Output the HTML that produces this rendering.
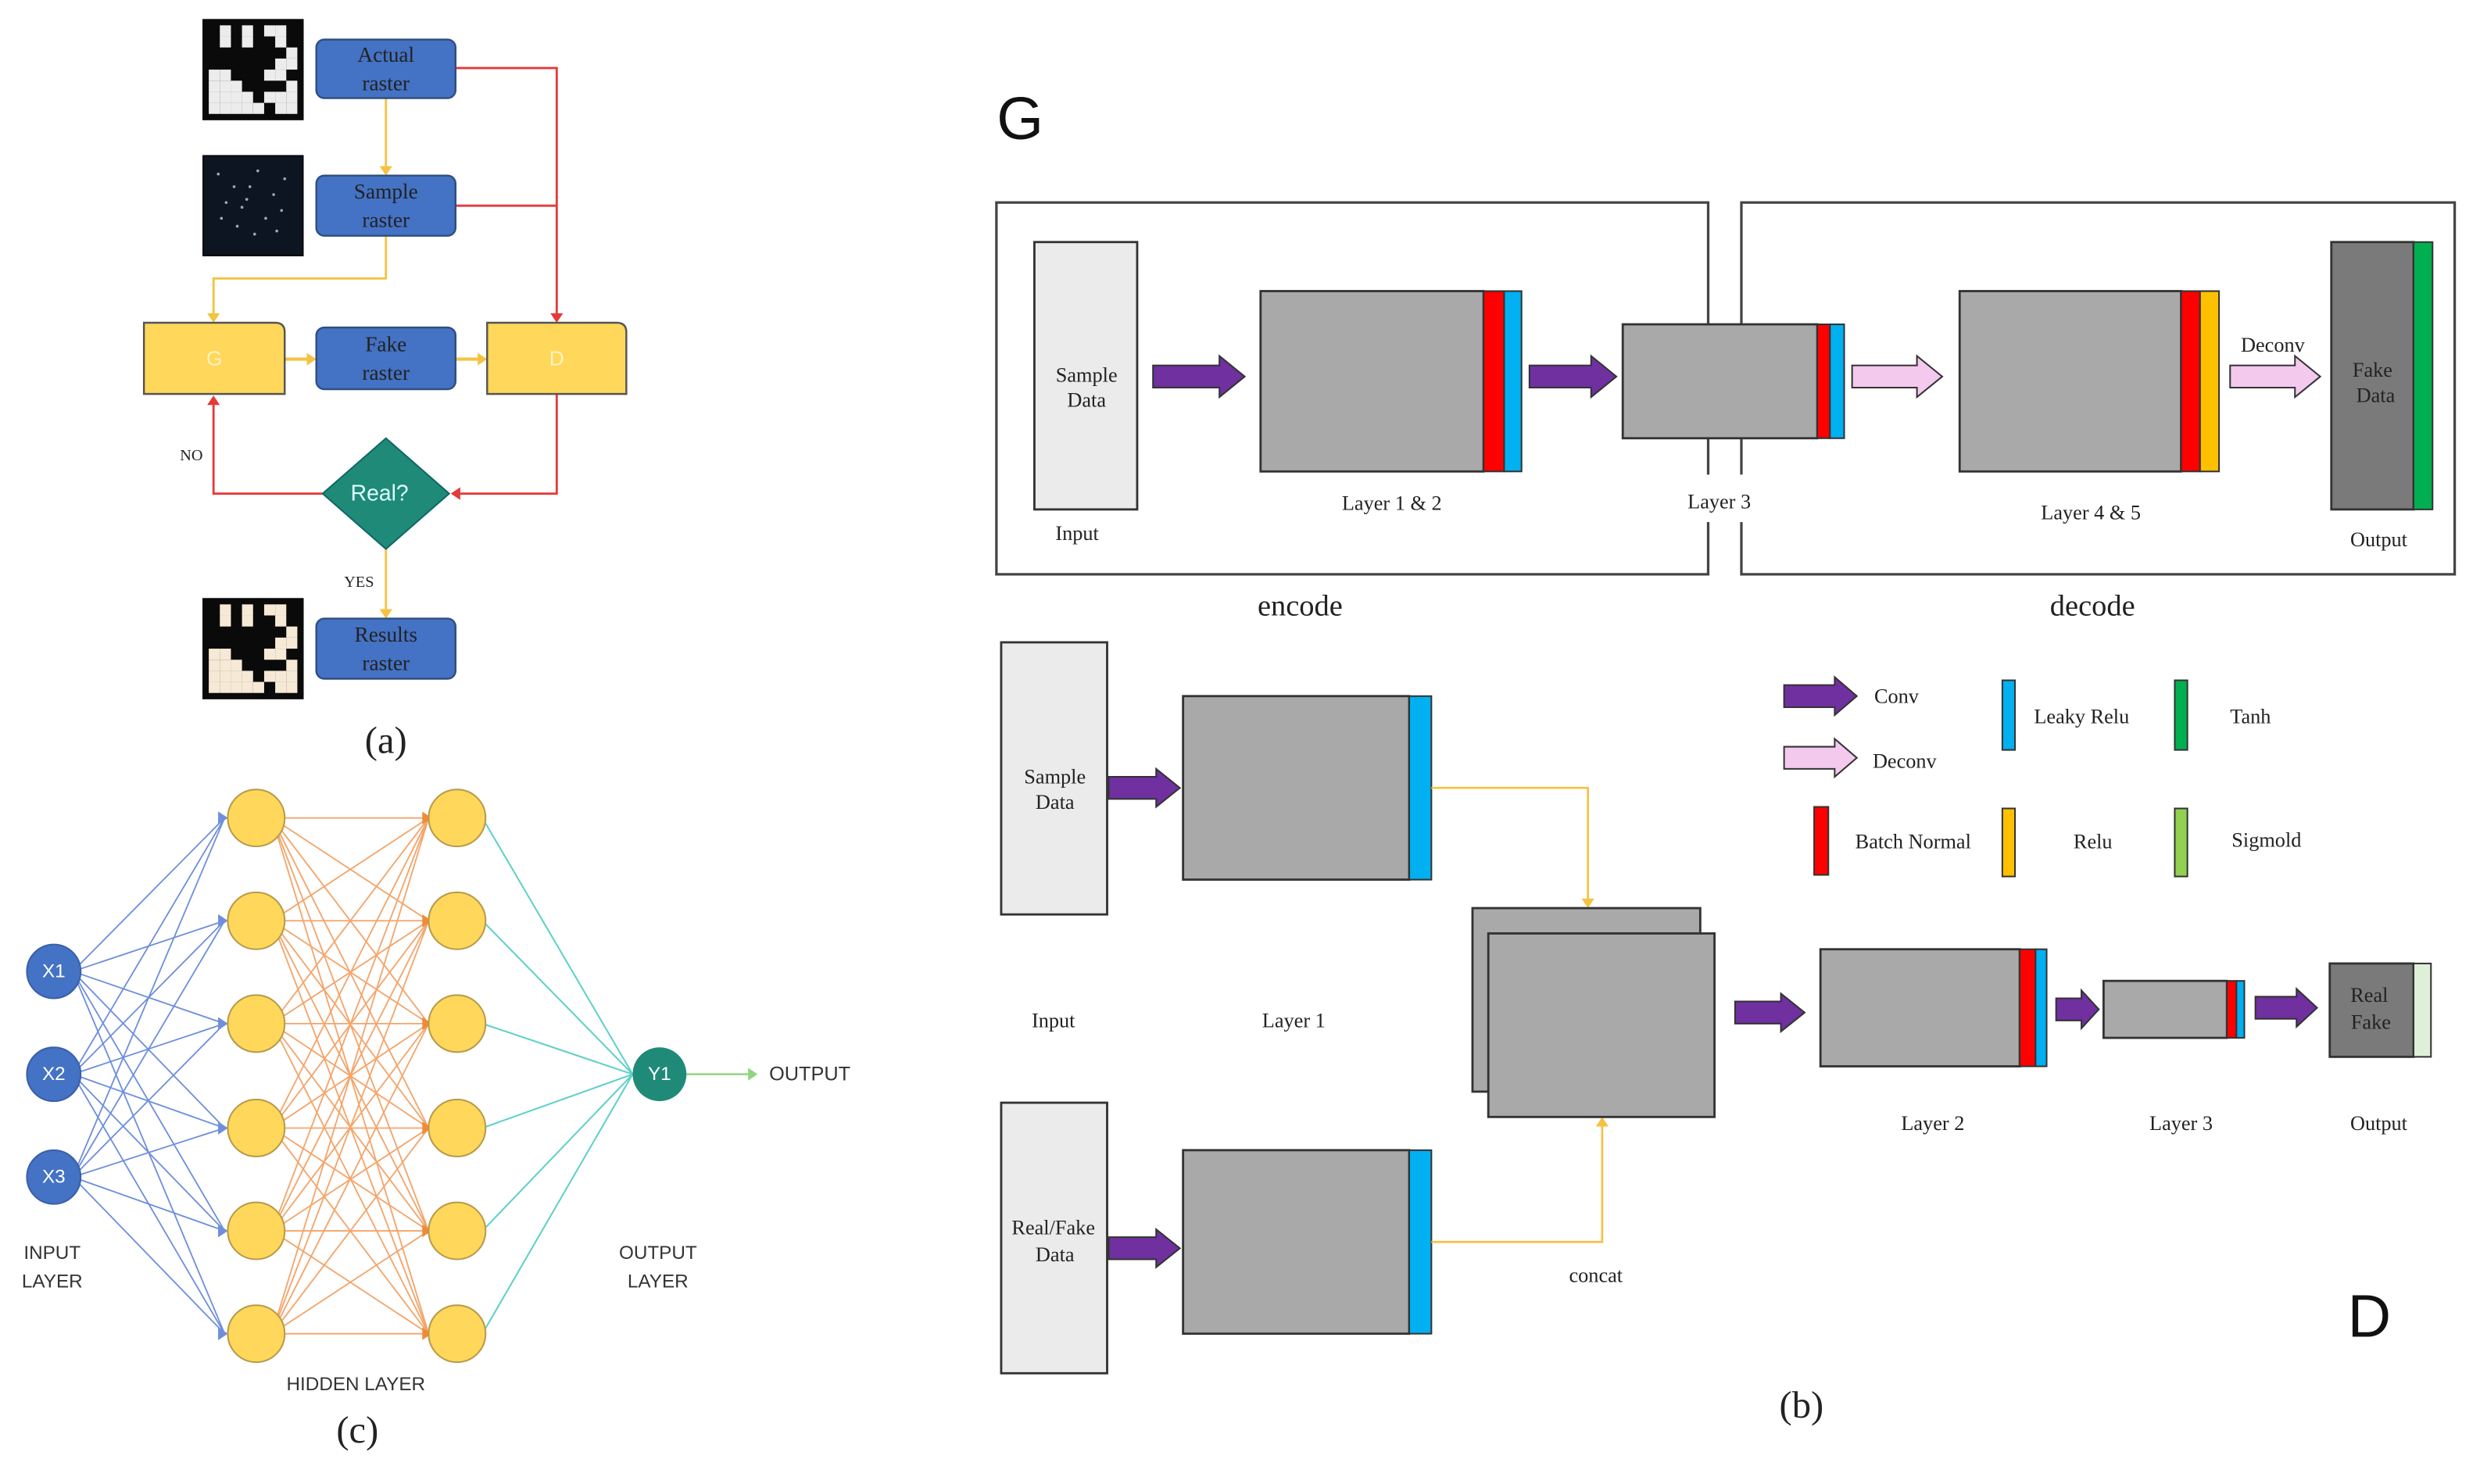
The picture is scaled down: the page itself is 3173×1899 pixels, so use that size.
<!DOCTYPE html>
<html><head><meta charset="utf-8">
<style>
html,body{margin:0;padding:0;background:#fff;}
svg{display:block;}
.s{font-family:"Liberation Serif",serif;fill:#222;}
.a{font-family:"Liberation Sans",sans-serif;}
</style></head>
<body>
<svg id="c" width="3173" height="1899" viewBox="0 0 1568 938" preserveAspectRatio="none" xmlns="http://www.w3.org/2000/svg">
<rect width="1568" height="938" fill="#fff"/>
<g id="net"></g>
<g id="main"></g>
</svg>
<script>
const NS="http://www.w3.org/2000/svg";
const main=document.getElementById('main'), net=document.getElementById('net');
function el(tag,attrs,parent,text){const e=document.createElementNS(NS,tag);for(const k in attrs)e.setAttribute(k,attrs[k]);if(text!==undefined)e.textContent=text;(parent||main).appendChild(e);return e;}
function rect(x,y,w,h,fill,stroke,sw,rx){return el('rect',{x,y,width:w,height:h,fill,stroke:stroke||'none','stroke-width':sw||1,rx:rx||0});}
function line(pts,stroke,sw,p){return el('polyline',{points:pts,fill:'none',stroke,'stroke-width':sw||1.3},p);}
function txt(x,y,t,size,cls,fill,anchor,weight){return el('text',{x,y,'font-size':size,class:cls||'s',fill:fill||'#222','text-anchor':anchor||'middle','dominant-baseline':'central','font-weight':weight||'normal'},main,t);}
function tri(x,y,dir,col,p){
  const d=4; let pts;
  if(dir=='d')pts=`${x-d},${y-6} ${x+d},${y-6} ${x},${y}`;
  if(dir=='u')pts=`${x-d},${y+6} ${x+d},${y+6} ${x},${y}`;
  if(dir=='r')pts=`${x-6},${y-d} ${x-6},${y+d} ${x},${y}`;
  if(dir=='l')pts=`${x+6},${y-d} ${x+6},${y+d} ${x},${y}`;
  el('polygon',{points:pts,fill:col},p);
}
function barrow(x1,x2,y,fill,bh,hh,hl){bh=bh||7;hh=hh||13;hl=hl||16;const xh=x2-hl;
  el('polygon',{points:`${x1},${y-bh} ${xh},${y-bh} ${xh},${y-hh} ${x2},${y} ${xh},${y+hh} ${xh},${y+bh} ${x1},${y+bh}`,fill,stroke:'#333','stroke-width':1});}

// ---------- panel (a) ----------
function raster(x,y,type){
  rect(x,y,64,64,'#0a0a0a');
  if(type=='sample'){
    const pts=[[10,12],[20,20],[35,10],[45,25],[15,30],[28,28],[40,40],[50,35],[22,45],[33,50],[12,40],[52,15],[30,20],[25,33],[47,48]];
    rect(x+1,y+1,62,62,'#0d1522');
    pts.forEach(p=>el('circle',{cx:x+p[0],cy:y+p[1],r:0.9,fill:'#9ab'}));
    return;
  }
  const c=type=='res'?'#f6e9d6':'#ececec';
  const g=["01010110","01010010","00000001","00000011","11000110","11100001","11110111","11111011"];
  const cs=7;
  g.forEach((r,i)=>{for(let j=0;j<8;j++)if(r[j]=='1')rect(x+4+j*cs,y+4+i*cs,cs,cs,c);});
}
raster(128,12,'act');raster(128,98,'sample');raster(128,378,'res');

line('288,43 352,43 352,200','#e43a3a',1.4);
line('288,130 352,130','#e43a3a',1.4);
tri(352,204,'d','#e43a3a');
line('352,249 352,312 290,312','#e43a3a',1.4);tri(285,312,'l','#e43a3a');
line('204,312 135,312 135,255','#e43a3a',1.4);tri(135,250,'u','#e43a3a');
line('244,62 244,106','#f5c242',1.4);tri(244,111,'d','#f5c242');
line('244,149 244,176 135,176 135,199','#f5c242',1.4);tri(135,204,'d','#f5c242');
line('180,227 196,227','#f5c242',2);tri(200,227,'r','#f5c242');
line('288,227 304,227','#f5c242',2);tri(308,227,'r','#f5c242');
line('244,347 244,386','#f5c242',1.4);tri(244,391,'d','#f5c242');

function bbox(x,y,w,h,t1,t2){rect(x,y,w,h,'#4472c4','#2f4f7f',1.2,5);txt(x+w/2,y+h/2-9,t1,13.5,'s','#fff');txt(x+w/2,y+h/2+9,t2,13.5,'s','#fff');}
bbox(200,25,88,37,'Actual','raster');
bbox(200,111,88,38,'Sample','raster');
bbox(200,207,88,39,'Fake','raster');
bbox(200,391,88,38,'Results','raster');
function ybox(x,y,w,h,t){el('path',{d:`M${x},${y} H${x+w-6} Q${x+w},${y} ${x+w},${y+6} V${y+h} H${x} Z`,fill:'#ffd75a',stroke:'#555','stroke-width':1.2});txt(x+w/2,y+h/2,t,13,'a','#fff3c0');}
ybox(91,204,89,45,'G');ybox(308,204,88,45,'D');
el('polygon',{points:'244,277 284,312 244,347 204,312',fill:'#1f8a78',stroke:'#166',"stroke-width":1});
txt(240,312,'Real?',14,'a','#dff');
txt(121,288,'NO',10,'s','#3a5a8a');txt(227,368,'YES',10,'s','#3a5a8a');
txt(244,468,'(a)',24,'s','#111');

// ---------- panel (c) ----------
const inY=[614,679,744], hY=[517,582,647,713,778,843];
inY.forEach(y=>hY.forEach(h=>{line(`${46},${y} ${142},${h}`,'#6f8fdc',0.9,net);tri(144,h,'r','#6f8fdc',net);}));
hY.forEach(a=>hY.forEach(b=>line(`172,${a} 271,${b}`,'#f4a46a',0.9,net)));
hY.forEach(b=>tri(273,b,'r','#f08a3a',net));
hY.forEach(a=>line(`305,${a} 400,679`,'#5fd0c8',1,net));
line('434,679 475,679','#8fd67f',1.2);tri(479,679,'r','#8fd67f');
hY.forEach(y=>{el('circle',{cx:162,cy:y,r:18,fill:'#ffd75a',stroke:'#b79a4a','stroke-width':1});el('circle',{cx:289,cy:y,r:18,fill:'#ffd75a',stroke:'#b79a4a','stroke-width':1});});
inY.forEach((y,i)=>{el('circle',{cx:34,cy:y,r:17,fill:'#4472c4',stroke:'#3a5fa8'});txt(34,y,'X'+(i+1),12,'a','#fff');});
el('circle',{cx:417,cy:679,r:17,fill:'#1f8a78'});txt(417,679,'Y1',12,'a','#fff');
txt(512,679,'OUTPUT',12.5,'a','#333');
txt(33,792,'INPUT',12,'a','#333');txt(33,810,'LAYER',12,'a','#333');
txt(416,792,'OUTPUT',12,'a','#333');txt(416,810,'LAYER',12,'a','#333');
txt(225,875,'HIDDEN  LAYER',12,'a','#333');
txt(226,904,'(c)',24,'s','#111');

// ---------- panel (b) ----------
txt(645,75,'G',38,'a','#111');
rect(630,128,450,235,'none','#444',1.6);
rect(1101,128,451,235,'none','#444',1.6);
rect(1074,300,34,30,'#fff');
txt(822,383,'encode',19,'s','#111');txt(1323,383,'decode',19,'s','#111');
function gbox(x,y,w,h,fill){rect(x,y,w,h,fill||'#a9a9a9','#333',1.4);}
gbox(654,153,65,169,'#ebebeb');txt(687,237,'Sample',13);txt(687,253,'Data',13);
barrow(729,787,238,'#7030a0');
gbox(797,184,141,114);rect(938,184,13,114,'#ff0000','#333',1);rect(951,184,11,114,'#00b0f0','#333',1);
barrow(967,1022,238,'#7030a0');
gbox(1026,205,123,72);rect(1149,205,8,72,'#ff0000','#333',1);rect(1157,205,9,72,'#00b0f0','#333',1);
barrow(1171,1228,238,'#f3c9ee');
gbox(1239,184,140,114);rect(1379,184,12,114,'#ff0000','#333',1);rect(1391,184,12,114,'#ffc000','#333',1);
barrow(1410,1467,238,'#f3c9ee');txt(1437,218,'Deconv',13);
gbox(1474,153,52,169,'#7a7a7a');rect(1526,153,12,169,'#00b050','#333',1);
txt(1500,234,'Fake',13);txt(1502,250,'Data',13);
txt(681,337,'Input',13);txt(880,318,'Layer 1 & 2',13);txt(1087,317,'Layer 3',13);txt(1322,324,'Layer 4 & 5',13);txt(1504,341,'Output',13);

gbox(633,406,67,172,'#ebebeb');txt(667,491,'Sample',13);txt(667,507,'Data',13);
barrow(701,746,498,'#7030a0',7,12,15);
gbox(748,440,143,116);rect(891,440,14,116,'#00b0f0','#333',1);
gbox(633,697,67,171,'#ebebeb');txt(666,776,'Real/Fake',13);txt(667,793,'Data',13);
barrow(701,746,789,'#7030a0',7,12,15);
gbox(748,727,143,116);rect(891,727,14,116,'#00b0f0','#333',1);
line('905,498 1004,498 1004,570','#f5c242',1.3);tri(1004,574,'d','#f5c242');
line('905,785 1013,785 1013,711','#f5c242',1.3);tri(1013,706,'u','#f5c242');
gbox(931,574,144,116);gbox(941,590,143,116);
txt(1009,806,'concat',13);
barrow(1097,1141,640,'#7030a0',7,12,15);
gbox(1151,600,126,74);rect(1277,600,10,74,'#ff0000','#333',1);rect(1287,600,7,74,'#00b0f0','#333',1);
barrow(1300,1327,638,'#7030a0',7,12,11);
gbox(1330,620,78,36);rect(1408,620,6,36,'#ff0000','#333',1);rect(1414,620,5,36,'#00b0f0','#333',1);
barrow(1426,1465,637,'#7030a0',7,12,13);
gbox(1473,609,53,59,'#7a7a7a');rect(1526,609,11,59,'#dff0d8','#333',1);
txt(1498,629,'Real',13);txt(1499,646,'Fake',13);
txt(666,645,'Input',13);txt(818,645,'Layer 1',13);txt(1222,710,'Layer 2',13);txt(1379,710,'Layer 3',13);txt(1504,710,'Output',13);

barrow(1128,1174,440,'#7030a0',7,12,14);txt(1185,440,'Conv',13,'s','#222','start');
barrow(1128,1174,479,'#f3c9ee',7,12,14);txt(1184,481,'Deconv',13,'s','#222','start');
rect(1266,430,8,44,'#00b0f0','#333',1);txt(1286,453,'Leaky Relu',13,'s','#222','start');
rect(1375,430,8,44,'#00b050','#333',1);txt(1410,453,'Tanh',13,'s','#222','start');
rect(1147,510,9,43,'#ff0000','#333',1);txt(1173,532,'Batch Normal',13,'s','#222','start');
rect(1266,511,8,43,'#ffc000','#333',1);txt(1311,532,'Relu',13,'s','#222','start');
rect(1375,511,8,43,'#92d050','#333',1);txt(1411,531,'Sigmold',13,'s','#222','start');

txt(1498,832,'D',38,'a','#111');
txt(1139,888,'(b)',24,'s','#111');
</script>
</body></html>
